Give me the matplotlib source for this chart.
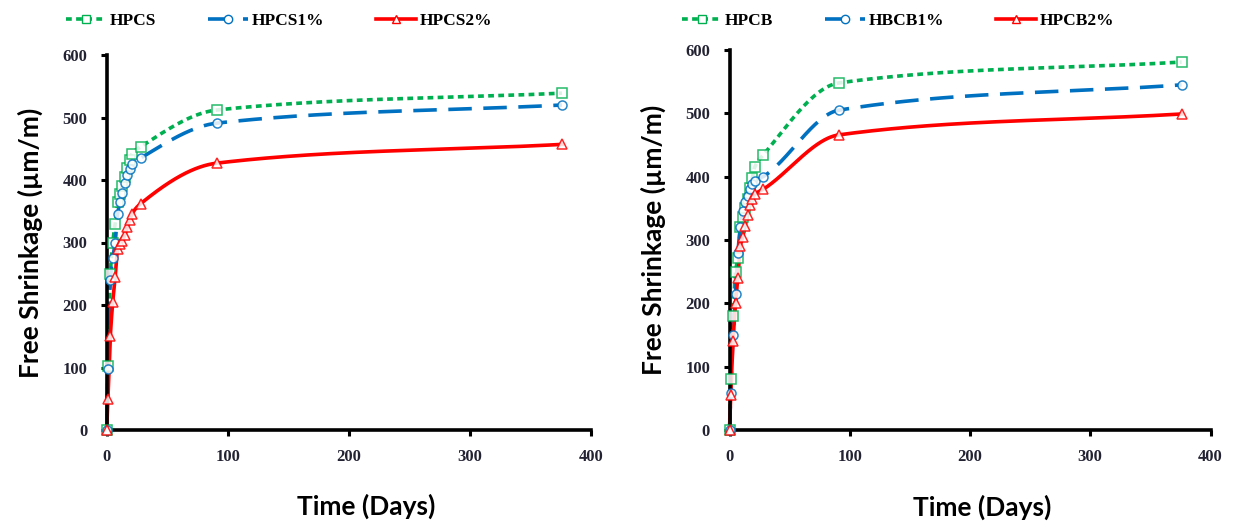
import numpy as np
import matplotlib
matplotlib.use("Agg")
import matplotlib.pyplot as plt
from matplotlib.lines import Line2D

# ---------------- data ----------------
days = [0, 1, 3, 5, 7, 9, 11, 13, 15, 17, 19, 21, 28, 91, 376]

hpcs = [0, 102, 250, 300, 330, 365, 378, 390, 405, 420, 432, 442, 453, 512, 539]
hpcs1 = [0, 98, 240, 275, 300, 345, 365, 380, 395, 408, 418, 425, 435, 491, 520]
hpcs2 = [0, 50, 150, 205, 245, 290, 297, 303, 312, 325, 336, 346, 362, 427, 457]

hpcb = [0, 80, 180, 250, 272, 320, 337, 350, 365, 382, 398, 415, 434, 548, 581]
hbcb1 = [0, 58, 150, 215, 280, 320, 345, 360, 370, 380, 388, 393, 400, 505, 545]
hpcb2 = [0, 55, 140, 200, 240, 290, 305, 322, 340, 355, 365, 372, 380, 466, 499]

left_labels = ["HPCS", "HPCS1%", "HPCS2%"]
right_labels = ["HPCB", "HBCB1%", "HPCB2%"]

x_ticks = [0, 100, 200, 300, 400]
y_ticks = [0, 100, 200, 300, 400, 500, 600]


def pchip(x, y, xn):
    x = np.asarray(x, float)
    y = np.asarray(y, float)
    h = np.diff(x)
    d = np.diff(y) / h
    n = len(x)
    m = np.zeros(n)
    for k in range(1, n - 1):
        if d[k - 1] * d[k] <= 0:
            m[k] = 0
        else:
            w1 = 2 * h[k] + h[k - 1]
            w2 = h[k] + 2 * h[k - 1]
            m[k] = (w1 + w2) / (w1 / d[k - 1] + w2 / d[k])
    m[0] = d[0]
    m[-1] = d[-1]
    idx = np.clip(np.searchsorted(x, xn) - 1, 0, n - 2)
    t = (xn - x[idx]) / h[idx]
    h00 = 2 * t**3 - 3 * t**2 + 1
    h10 = t**3 - 2 * t**2 + t
    h01 = -2 * t**3 + 3 * t**2
    h11 = t**3 - t**2
    return h00 * y[idx] + h10 * h[idx] * m[idx] + h01 * y[idx + 1] + h11 * h[idx] * m[idx + 1]


GREEN = "#00b050"
BLUE = "#0070c0"
RED = "#ff0000"
styles = [
    dict(color=GREEN, ls=(0, (1.6, 1.2)), marker="s"),
    dict(color=BLUE, ls=(0, (6.5, 3.2)), marker="o"),
    dict(color=RED, ls="-", marker="^"),
]

W, H = 1243, 529
fig = plt.figure(figsize=(W / 100, H / 100), dpi=100)

serif = ["Liberation Serif", "DejaVu Serif"]
sans = ["Lato", "Open Sans", "DejaVu Sans"]


def make_axes(rect, series, labels, xlab_x):
    ax = fig.add_axes(rect)
    xn = np.linspace(0, days[-1], 4000)
    handles = []
    for ys, st, lab in zip(series, styles, labels):
        yn = pchip(days, ys, xn)
        ax.plot(xn, yn, color=st["color"], ls=st["ls"], lw=2.6, zorder=2,
                clip_on=False)
        ax.plot(days, ys, ls="none", marker=st["marker"], ms=6.5,
                mfc="white", mec=st["color"], mew=1.1, zorder=3, alpha=0.85,
                clip_on=False)
        handles.append(Line2D([0], [0], color=st["color"], ls=st["ls"], lw=2.6,
                              marker=st["marker"], ms=6, mfc="white",
                              mec=st["color"], mew=1.0))
    ax.set_xlim(0, 400)
    ax.set_ylim(0, 600)
    ax.set_xticks(x_ticks)
    ax.set_yticks(y_ticks)
    for s in ["top", "right"]:
        ax.spines[s].set_visible(False)
    for s in ["left", "bottom"]:
        ax.spines[s].set_linewidth(2.6)
        ax.spines[s].set_color("black")
    ax.tick_params(width=2.2, length=4, color="black", pad=10)
    for lab in ax.get_xticklabels() + ax.get_yticklabels():
        lab.set_fontfamily(serif)
        lab.set_fontweight("bold")
        lab.set_fontsize(12)
        lab.set_color("#222233")
    ax.set_xlabel("Time (Days)", fontfamily=sans, fontweight="bold", fontsize=19)
    ax.xaxis.set_label_coords(xlab_x, -0.17)
    ax.xaxis.label.set_va("top")
    ax.set_ylabel("Free Shrinkage (µm/m)", fontfamily=sans, fontweight="bold",
                  fontsize=19, labelpad=14)
    return ax, handles


axL, hL = make_axes([106.7 / W, 1 - 430 / H, 484.3 / W, 375 / H],
                    [hpcs, hpcs1, hpcs2], left_labels, 0.535)
axR, hR = make_axes([729.5 / W, 1 - 430 / H, 481 / W, 380 / H],
                    [hpcb, hbcb1, hpcb2], right_labels, 0.525)

for ax, hs, labs, cx in [(axL, hL, left_labels, 279 / W), (axR, hR, right_labels, 898 / W)]:
    fig.legend(hs, labs, loc="center", bbox_to_anchor=(cx, 1 - 21 / H), ncol=3,
               frameon=False, handlelength=2.3, handletextpad=0.2, columnspacing=3.0,
               prop=dict(family=serif, weight="bold", size=12.5))

fig.savefig("out.png", dpi=100)
